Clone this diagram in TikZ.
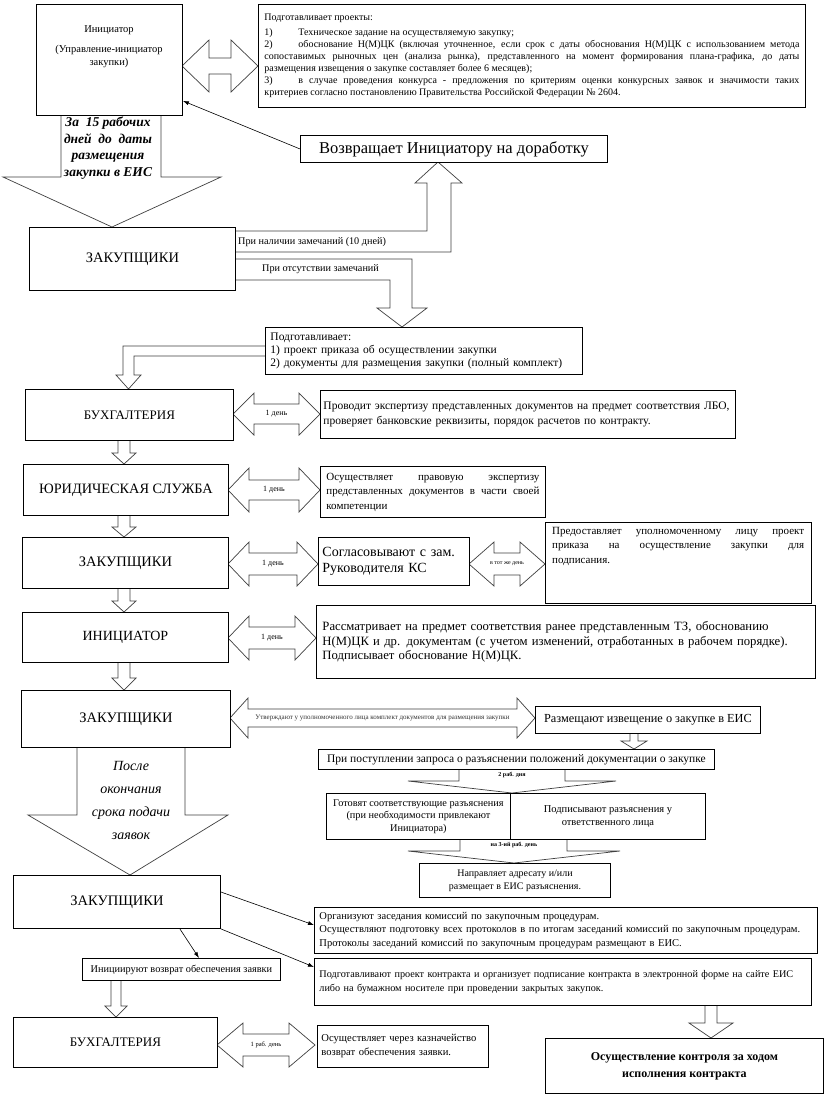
\documentclass[tikz,border=0pt]{standalone}
\usepackage{fontspec}
\setmainfont{Liberation Serif}
\usetikzlibrary{arrows.meta}
\newcommand\fs[2]{\fontsize{#1}{#2}\selectfont}
% hollow double arrow: x1, x2, yc, head length, head half height, shaft half height
\newcommand\DblArr[6]{\draw[blk] (#1,#3) -- ({#1+#4},{#3-#5}) -- ({#1+#4},{#3-#6}) -- ({#2-#4},{#3-#6}) -- ({#2-#4},{#3-#5}) -- (#2,#3) -- ({#2-#4},{#3+#5}) -- ({#2-#4},{#3+#6}) -- ({#1+#4},{#3+#6}) -- ({#1+#4},{#3+#5}) -- cycle;}
% hollow down arrow: xc, ytop, ytip, head length, head half width, shaft half width
\newcommand\DownArr[6]{\draw[blk] ({#1-#6},#2) -- ({#1-#6},{#3-#4}) -- ({#1-#5},{#3-#4}) -- (#1,#3) -- ({#1+#5},{#3-#4}) -- ({#1+#6},{#3-#4}) -- ({#1+#6},#2);}
\begin{document}
\begin{tikzpicture}[x=1pt,y=-1pt,
  box/.style={draw=black, line width=0.9pt, fill=white, inner sep=0pt, anchor=north west, align=center},
  blk/.style={draw=black!75, line width=0.7pt, fill=white},
  thinarr/.style={draw=black, line width=0.6pt, -{Latex[length=6pt,width=4pt]}},
  txt/.style={inner sep=0pt},
  small/.style={inner sep=0pt, font=\fs{8}{9}},
]
\useasboundingbox (0,0) rectangle (827,1096);
\fill[white] (0,0) rectangle (827,1096);

% ---------- block arrows (drawn first) ----------
\DblArr{182}{258}{66}{27}{26}{8}
\draw[blk] (61,115) -- (61,177) -- (3,177) -- (112,227) -- (221,177) -- (161,177) -- (161,115);
\draw[blk] (235,231) -- (427,231) -- (427,183) -- (415,183) -- (438,162) -- (462,183) -- (451,183) -- (451,252) -- (235,252);
\draw[blk] (235,259) -- (412,259) -- (412,308) -- (427,308) -- (402,327) -- (377,308) -- (390,308) -- (390,280) -- (235,280);
\draw[blk] (265,346) -- (123,346) -- (123,375) -- (116,375) -- (128.5,389) -- (141,375) -- (134,375) -- (134,356) -- (265,356);
\DblArr{233}{320}{414}{21}{21}{10}
\DownArr{124}{440}{464}{11}{12}{6}
\DblArr{228}{320}{490}{21}{22}{10}
\DownArr{124}{515}{537}{10}{12}{6}
\DblArr{228}{318}{564}{21}{22}{11}
\DblArr{469}{545}{564}{25}{22}{11}
\DownArr{124}{588}{612}{11}{12}{6}
\DblArr{228}{316}{638}{21}{22}{11}
\DownArr{124}{662}{690}{12}{12}{6}
\DblArr{230}{535}{718}{18}{20}{9}
\DownArr{634}{733}{749}{8}{13}{4}
\draw[blk] (459,769) -- (459,781) -- (408,781) -- (512,793) -- (616,781) -- (565,781) -- (565,769);
\draw[blk] (460,839) -- (460,851) -- (408,851) -- (514,863) -- (620,851) -- (567,851) -- (567,839);
\draw[blk] (77,747) -- (77,815) -- (28,815) -- (130,875) -- (228,815) -- (185,815) -- (185,747);
\DownArr{116}{980}{1017}{11}{11}{5}
\DownArr{711}{1005}{1038}{15}{22}{6}
\DblArr{217}{315}{1045}{26}{22}{11}

% ---------- boxes ----------
\node[box, minimum width=146pt, minimum height=111pt] (init) at (36,4) {};
\node[txt, align=center, font=\fs{10.5}{13}] (initt) at (109,47) {Инициатор\\[7pt](Управление-инициатор\\закупки)};

\node[box, minimum width=547pt, minimum height=103pt, text width=535pt, align=justify, font=\fs{10}{12}] (tb) at (258,4)
{Подготавливает проекты:\\[3pt]
\makebox[34pt][l]{1)}Техническое задание на осуществляемую закупку;\\
\makebox[34pt][l]{2)}обоснование Н(М)ЦК (включая уточненное, если срок с даты обоснования Н(М)ЦК с использованием метода\linebreak
сопоставимых рыночных цен (анализа рынка), представленного на момент формирования плана-графика, до даты\linebreak
размещения извещения о закупке составляет более 6 месяцев);\\
\makebox[34pt][l]{3)}в случае проведения конкурса - предложения по критериям оценки конкурсных заявок и значимости таких\linebreak
критериев согласно постановлению  Правительства Российской Федерации № 2604.};

\node[box, minimum width=307pt, minimum height=27pt, font=\fs{16.5}{19}] (vozvr) at (300,135) {Возвращает Инициатору на доработку};

\node[box, minimum width=206pt, minimum height=63pt, font=\fs{14.5}{17}] (zak1) at (29,227) {ЗАКУПЩИКИ};
\node[txt, anchor=west, font=\fs{10.2}{11}] (l1) at (238,242) {При наличии замечаний (10 дней)};
\node[txt, anchor=west, font=\fs{10.2}{11}] (l2) at (262,269) {При отсутствии замечаний};

\node[box, minimum width=317pt, minimum height=47pt, text width=307pt, align=left, font=\fs{11.5}{13}] (prep) at (265,327)
{Подготавливает:\\1) проект приказа об осуществлении закупки\\2) документы для размещения закупки (полный комплект)};

\node[box, minimum width=208pt, minimum height=51pt, font=\fs{13}{15}] (bux1) at (25,389) {БУХГАЛТЕРИЯ};
\node[box, minimum width=415pt, minimum height=48pt, text width=409pt, align=left, font=\fs{11.5}{15}] (provod) at (320,390)
{Проводит экспертизу представленных документов на предмет соответствия ЛБО,\\проверяет банковские реквизиты, порядок расчетов по контракту.};

\node[box, minimum width=205pt, minimum height=51pt, font=\fs{14.3}{16}] (yur) at (23,464) {ЮРИДИЧЕСКАЯ СЛУЖБА};
\node[box, minimum width=225pt, minimum height=51pt, text width=213pt, align=justify, font=\fs{11}{14.5}] (osush) at (320,466)
{Осуществляет правовую экспертизу\linebreak представленных документов в части своей\linebreak компетенции};

\node[box, minimum width=206pt, minimum height=51pt, font=\fs{14.5}{17}] (zak2) at (22,537) {ЗАКУПЩИКИ};
\node[box, minimum width=151pt, minimum height=48pt, text width=143pt, align=left, font=\fs{14}{16.5}] (sogl) at (318,537)
{Согласовывают с зам.\\Руководителя КС};
\node[box, minimum width=266pt, minimum height=81pt] (pred) at (545,522) {};
\node[txt, anchor=north west, text width=252pt, align=justify, font=\fs{11}{14.5}] (predt) at (552,527)
{Предоставляет уполномоченному лицу проект\linebreak приказа на осуществление закупки для\linebreak подписания.};

\node[box, minimum width=206pt, minimum height=50pt, font=\fs{14}{16}] (inic1) at (22,612) {ИНИЦИАТОР};
\node[box, minimum width=499pt, minimum height=73pt, text width=487pt, align=left, font=\fs{12.7}{14.5}] (rassm) at (316,605)
{Рассматривает на предмет соответствия ранее представленным ТЗ, обоснованию\\Н(М)ЦК и др. документам (с учетом изменений, отработанных в рабочем порядке).\\Подписывает обоснование Н(М)ЦК.};

\node[box, minimum width=209pt, minimum height=57pt, font=\fs{14.5}{17}] (zak3) at (21,690) {ЗАКУПЩИКИ};
\node[box, minimum width=225pt, minimum height=27pt, font=\fs{12.3}{14}] (razm) at (535,706) {Размещают извещение о закупке в ЕИС};
\node[box, minimum width=396pt, minimum height=20pt, font=\fs{11.5}{13}] (zapr) at (318,749) {При поступлении запроса о разъяснении положений документации о закупке};
\node[box, minimum width=184pt, minimum height=46pt, font=\fs{10.3}{12.5}] (gotov) at (326,793) {Готовят соответствующие разъяснения\\(при необходимости привлекают\\Инициатора)};
\node[box, minimum width=195pt, minimum height=46pt, font=\fs{10.5}{13}] (podp) at (510,793) {Подписывают разъяснения у\\ответственного лица};
\node[box, minimum width=191pt, minimum height=34pt, font=\fs{10}{13}] (napr) at (419,863) {Направляет адресату и/или\\размещает в ЕИС разъяснения.};

\node[box, minimum width=207pt, minimum height=53pt, font=\fs{14.5}{17}] (zak4) at (13,875) {ЗАКУПЩИКИ};
\node[box, minimum width=503pt, minimum height=46pt, text width=493pt, align=left, font=\fs{10.5}{13.5}] (box1) at (314,907)
{Организуют заседания комиссий по закупочным процедурам.\\Осуществляют подготовку всех протоколов в по итогам заседаний комиссий по закупочным процедурам.\\Протоколы заседаний комиссий по закупочным процедурам размещают в ЕИС.};
\node[box, minimum width=497pt, minimum height=47pt, text width=487pt, align=left, font=\fs{10.2}{14}] (box2) at (314,958)
{Подготавливают проект контракта и организует подписание контракта в электронной форме на сайте ЕИС\\либо на бумажном носителе при проведении закрытых закупок.};
\node[box, minimum width=198pt, minimum height=22pt, font=\fs{10.3}{12}] (inic2) at (82,958) {Инициируют возврат обеспечения заявки};
\node[box, minimum width=204pt, minimum height=50pt, font=\fs{13}{15}] (bux2) at (13,1017) {БУХГАЛТЕРИЯ};
\node[box, minimum width=171pt, minimum height=42pt, text width=163pt, align=left, font=\fs{10.6}{14}] (kazn) at (317,1025)
{Осуществляет через казначейство\\возврат обеспечения заявки.};
\node[box, minimum width=278pt, minimum height=55pt, font=\bfseries\fs{12}{17}] (kontr) at (545,1038)
{Осуществление контроля за ходом\\исполнения контракта};

% ---------- texts inside block arrows ----------
\node[txt, align=center, font=\bfseries\itshape\fs{13.5}{16.5}] (t15) at (108,148) {За\ \ 15 рабочих\\дней\ \ до\ \ даты\\размещения\\закупки в ЕИС};
\node[txt, align=center, font=\itshape\fs{14}{23}] (tposle) at (131,800) {После\\окончания\\срока подачи\\заявок};
\node[small] (d1) at (276.5,414) {1 день};
\node[small] (d2) at (274,490) {1 день};
\node[small] (d3) at (273,564) {1 день};
\node[txt, font=\fs{6}{7}] (d4) at (507,564) {в тот же день};
\node[small] (d5) at (272,638) {1 день};
\node[txt, font=\fs{7}{8}, text=black!80] (d6) at (382.5,718) {Утверждают у уполномоченного лица комплект документов для размещения закупки};
\node[txt, font=\bfseries\fs{6}{7}] (d7) at (512,775) {2 раб. дня};
\node[txt, font=\bfseries\fs{6}{7}] (d8) at (514,845) {на 3-ий раб. день};
\node[txt, font=\fs{6.5}{7}] (d9) at (266,1045) {1 раб. день};

% ---------- thin connectors ----------
\draw[thinarr] (vozvr.west) -- ([yshift=15pt]init.south east);
\draw[thinarr] ([yshift=-17pt]zak4.north east) -- ([yshift=-18pt]box1.north west);
\draw[thinarr] (zak4.south east) -- ([yshift=-9pt]box2.north west);
\draw[thinarr] ([xshift=-41pt]zak4.south east) -- ([xshift=117pt]inic2.north west);
\end{tikzpicture}
\end{document}
